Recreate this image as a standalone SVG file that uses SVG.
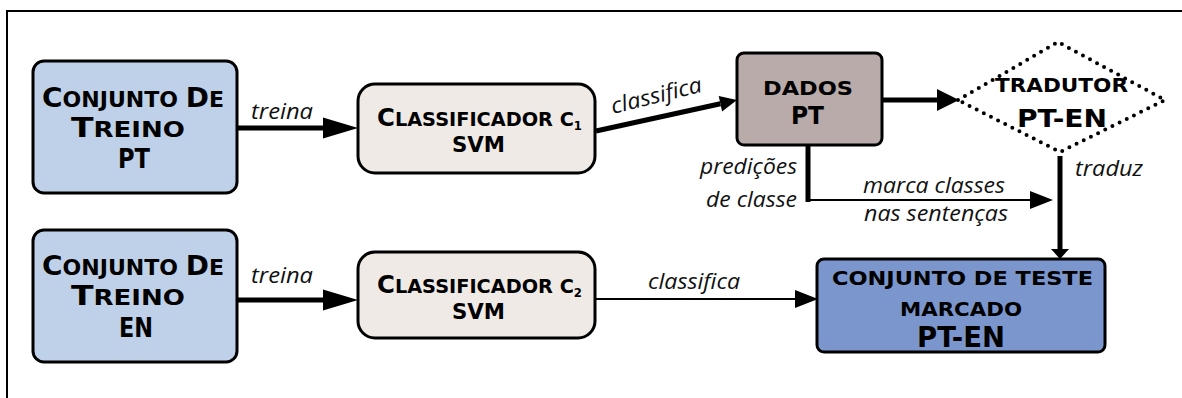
<svg xmlns="http://www.w3.org/2000/svg" width="1182" height="398" viewBox="0 0 1182 398">
  <style>
    .box { stroke: #000; stroke-width: 3; }
    .train { fill: #bfd1e8; }
    .clf { fill: #efeae6; }
    .data { fill: #b9abaa; }
    .test { fill: #7a96cd; }
    .bt { font-family: "DejaVu Sans", Verdana, sans-serif; font-weight: bold; fill: #000; }
    .lbl { font-family: "Open Sans", "Noto Sans", sans-serif; font-style: italic; font-size: 22px; fill: #111; }
    .thick { stroke: #000; stroke-width: 5; fill: none; }
    .thin { stroke: #000; stroke-width: 2.2; fill: none; }
    .frame { stroke: #000; stroke-width: 2; fill: none; }
  </style>
  <defs>
    <marker id="headBig" markerUnits="userSpaceOnUse" markerWidth="36" markerHeight="24" refX="0" refY="11" orient="auto" overflow="visible">
      <path d="M0,0.5 L35,11 L0,21.5 z" fill="#000"/>
    </marker>
    <marker id="headMid" markerUnits="userSpaceOnUse" markerWidth="24" markerHeight="24" refX="0" refY="11" orient="auto" overflow="visible">
      <path d="M0,0 L22,11 L0,22 z" fill="#000"/>
    </marker>
    <marker id="headSlant" markerUnits="userSpaceOnUse" markerWidth="18" markerHeight="18" refX="0" refY="8" orient="auto" overflow="visible">
      <path d="M0,0 L17,8 L0,16 z" fill="#000"/>
    </marker>
    <marker id="headThin" markerUnits="userSpaceOnUse" markerWidth="26" markerHeight="20" refX="0" refY="9" orient="auto" overflow="visible">
      <path d="M0,0 L23,9 L0,18 z" fill="#000"/>
    </marker>
    <marker id="headSmall" markerUnits="userSpaceOnUse" markerWidth="12" markerHeight="20" refX="0" refY="9" orient="auto" overflow="visible">
      <path d="M0,0 L10,9 L0,18 z" fill="#000"/>
    </marker>
  </defs>

  <rect width="1182" height="398" fill="#fff"/>
  <!-- outer frame (top and left edges) -->
  <path class="frame" d="M7,398 V11 H1182"/>

  <!-- connectors -->
  <g id="connectors">
    <path class="thick" d="M238,128 H323" marker-end="url(#headBig)"/>
    <path class="thick" d="M238,300 H323" marker-end="url(#headBig)"/>
    <path class="thick" stroke-width="4.5" d="M596,131 L720.4,103.7" marker-end="url(#headSlant)"/>
    <path class="thick" d="M882,100 H937" marker-end="url(#headMid)"/>
    <path class="thick" d="M808,145 V202"/>
    <path class="thin" d="M808,200 H1030" marker-end="url(#headThin)"/>
    <path class="thick" stroke-width="4.5" d="M1060,156 V249" marker-end="url(#headSmall)"/>
    <path class="thin" stroke-width="2.6" d="M596,299 H795" marker-end="url(#headThin)"/>

    <text class="lbl" x="251" y="119" textLength="62" lengthAdjust="spacingAndGlyphs">treina</text>
    <text class="lbl" x="251" y="283" textLength="62" lengthAdjust="spacingAndGlyphs">treina</text>
    <text class="lbl" x="613" y="114" textLength="93" lengthAdjust="spacingAndGlyphs" transform="rotate(-14 613 114)">classifica</text>
    <text class="lbl" x="648" y="289" textLength="92" lengthAdjust="spacingAndGlyphs">classifica</text>
    <text class="lbl" x="700" y="174" textLength="97" lengthAdjust="spacingAndGlyphs">predições</text>
    <text class="lbl" x="706" y="207" textLength="91" lengthAdjust="spacingAndGlyphs">de classe</text>
    <text class="lbl" x="863" y="193" textLength="142" lengthAdjust="spacingAndGlyphs">marca classes</text>
    <text class="lbl" x="864" y="221" textLength="144" lengthAdjust="spacingAndGlyphs">nas sentenças</text>
    <text class="lbl" x="1075" y="176" textLength="68" lengthAdjust="spacingAndGlyphs">traduz</text>
  </g>

  <!-- training set PT -->
  <g id="treino-pt">
    <rect class="box train" x="33" y="61" width="204" height="132" rx="11"/>
    <text class="bt" x="42" y="107" textLength="182" lengthAdjust="spacingAndGlyphs"><tspan font-size="26">C</tspan><tspan font-size="20.5">ONJUNTO </tspan><tspan font-size="26">D</tspan><tspan font-size="20.5">E</tspan></text>
    <text class="bt" x="71" y="137" textLength="114" lengthAdjust="spacingAndGlyphs"><tspan font-size="26">T</tspan><tspan font-size="20.5">REINO</tspan></text>
    <text class="bt" x="118" y="168" font-size="26.5" textLength="32" lengthAdjust="spacingAndGlyphs">PT</text>
  </g>

  <!-- training set EN -->
  <g id="treino-en">
    <rect class="box train" x="33" y="230" width="204" height="132" rx="11"/>
    <text class="bt" x="42" y="275" textLength="182" lengthAdjust="spacingAndGlyphs"><tspan font-size="26">C</tspan><tspan font-size="20.5">ONJUNTO </tspan><tspan font-size="26">D</tspan><tspan font-size="20.5">E</tspan></text>
    <text class="bt" x="71" y="305" textLength="114" lengthAdjust="spacingAndGlyphs"><tspan font-size="26">T</tspan><tspan font-size="20.5">REINO</tspan></text>
    <text class="bt" x="119" y="337" font-size="26.5" textLength="34" lengthAdjust="spacingAndGlyphs">EN</text>
  </g>

  <!-- classifier c1 -->
  <g id="classificador-c1">
    <rect class="box clf" x="358" y="84" width="237" height="89" rx="17"/>
    <text class="bt" x="377" y="126" textLength="205" lengthAdjust="spacingAndGlyphs"><tspan font-size="24">C</tspan><tspan font-size="19">LASSIFICADOR C</tspan><tspan font-size="11.5" dy="4">1</tspan></text>
    <text class="bt" x="452" y="152" font-size="21" textLength="53" lengthAdjust="spacingAndGlyphs">SVM</text>
  </g>

  <!-- classifier c2 -->
  <g id="classificador-c2">
    <rect class="box clf" x="358" y="252" width="237" height="86" rx="17"/>
    <text class="bt" x="377" y="293" textLength="205" lengthAdjust="spacingAndGlyphs"><tspan font-size="24">C</tspan><tspan font-size="19">LASSIFICADOR C</tspan><tspan font-size="11.5" dy="4">2</tspan></text>
    <text class="bt" x="452" y="319" font-size="21" textLength="53" lengthAdjust="spacingAndGlyphs">SVM</text>
  </g>

  <!-- PT data -->
  <g id="dados-pt">
    <rect class="box data" x="737" y="53" width="145" height="92" rx="7"/>
    <text class="bt" x="763" y="95" font-size="19.5" textLength="90" lengthAdjust="spacingAndGlyphs">DADOS</text>
    <text class="bt" x="791" y="124" font-size="25" textLength="33" lengthAdjust="spacingAndGlyphs">PT</text>
  </g>

  <!-- PT-EN translator -->
  <g id="tradutor">
    <polygon points="958,100 1058,42 1165,100 1060,152" fill="#fff" stroke="#000" stroke-width="4" stroke-dasharray="0 8" stroke-linecap="round" stroke-linejoin="round"/>
    <text class="bt" x="995" y="92" font-size="19.5" textLength="133" lengthAdjust="spacingAndGlyphs">TRADUTOR</text>
    <text class="bt" x="1017" y="127" font-size="25" textLength="90" lengthAdjust="spacingAndGlyphs">PT-EN</text>
  </g>

  <!-- tagged PT-EN test set -->
  <g id="teste-marcado">
    <rect class="box test" x="817" y="259" width="288" height="93" rx="7"/>
    <text class="bt" x="832" y="285" font-size="20" textLength="261" lengthAdjust="spacingAndGlyphs">CONJUNTO DE TESTE</text>
    <text class="bt" x="900" y="316" font-size="19.5" textLength="122" lengthAdjust="spacingAndGlyphs">MARCADO</text>
    <text class="bt" x="917" y="347" font-size="28" textLength="88" lengthAdjust="spacingAndGlyphs">PT-EN</text>
  </g>
</svg>
